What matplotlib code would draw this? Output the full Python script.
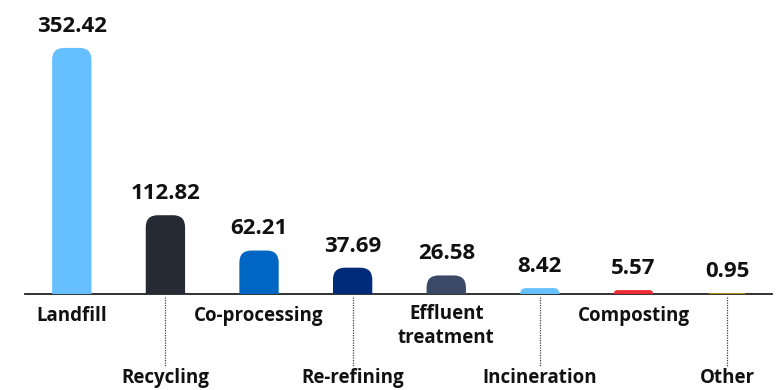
import matplotlib.pyplot as plt
from matplotlib.patches import FancyBboxPatch

categories = ["Landfill", "Recycling", "Co-processing", "Re-refining",
              "Effluent\ntreatment", "Incineration", "Composting", "Other"]
values = [352.42, 112.82, 62.21, 37.69, 26.58, 8.42, 5.57, 0.95]
colors = ["#66bfff", "#252a34", "#0066c4", "#002b7a",
          "#3a4a66", "#66bfff", "#ee2a35", "#f4c000"]

plt.rcParams['font.family'] = ['Open Sans', 'DejaVu Sans']

W, H = 777, 390
fig = plt.figure(figsize=(W / 100, H / 100), dpi=100)
ax = fig.add_axes([25 / W, 96 / H, 747 / W, 294 / H])
ymax = 421
ax.set_xlim(-0.5, 7.48)
ax.set_ylim(0, ymax)

# data units per pixel, for rounded corners
xpp = 7.98 / 747
ypp = ymax / 294
bw = 0.42
for i, (v, c) in enumerate(zip(values, colors)):
    hpx = v / ypp
    rad_px = min(12, max(hpx, 2.5))
    r = rad_px * xpp
    p = FancyBboxPatch((i - bw / 2, -rad_px * ypp), bw, v + rad_px * ypp,
                       boxstyle="round,pad=0,rounding_size=%f" % r,
                       mutation_aspect=ypp / xpp, fc=c, ec='none', zorder=3)
    ax.add_patch(p)
    ax.annotate("%.2f" % v, (i, v), xytext=(0, 8), textcoords='offset points',
                ha='center', va='bottom', fontsize=16, fontweight='bold',
                color='#111111')

for s in ['top', 'right', 'left']:
    ax.spines[s].set_visible(False)
ax.spines['bottom'].set_color('#222222')
ax.spines['bottom'].set_linewidth(1.3)
ax.set_xticks([])
ax.set_yticks([])

for i, lab in enumerate(categories):
    if i % 2 == 0:
        y = -22 / 294
        if "\n" in lab:
            y = -32 / 294
        ax.text(i, y, lab, transform=ax.get_xaxis_transform(), ha='center',
                va='center', fontsize=13.5, fontweight='bold',
                color='#111111', linespacing=1.3)
    else:
        ax.plot([i, i], [-3 / 294, -72 / 294], transform=ax.get_xaxis_transform(),
                color='#444444', lw=0.9, ls=(0, (1, 1)), clip_on=False)
        ax.text(i, -84 / 294, lab, transform=ax.get_xaxis_transform(),
                ha='center', va='center', fontsize=13.5, fontweight='bold',
                color='#111111')

fig.savefig("out.png", dpi=100)
